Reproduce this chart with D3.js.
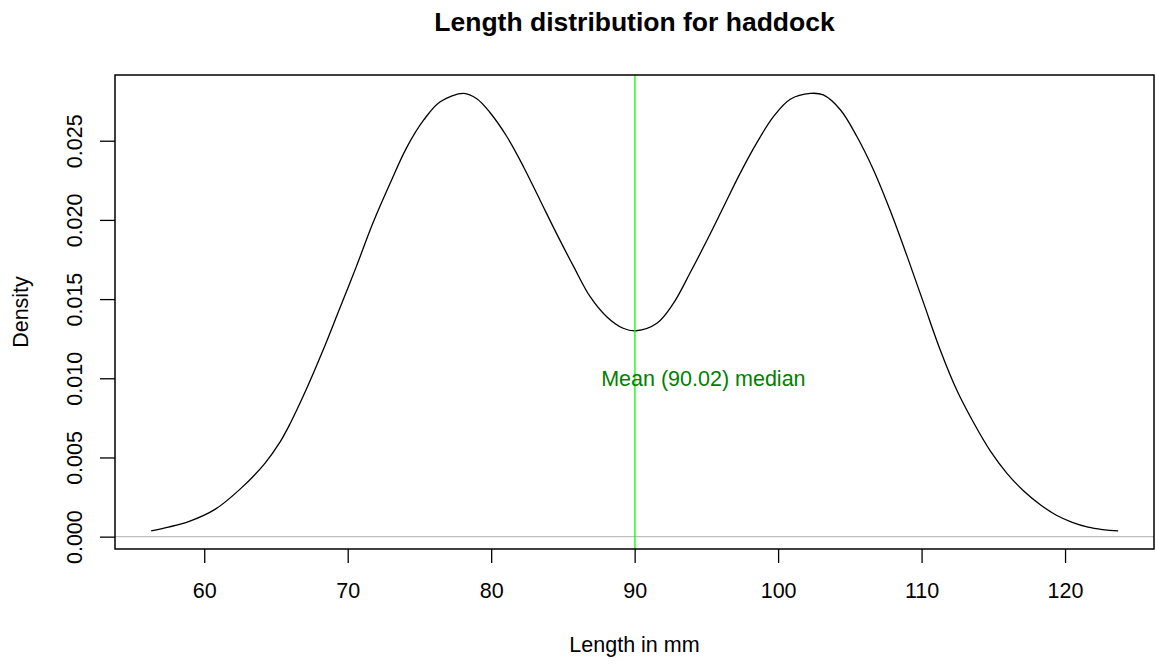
<!DOCTYPE html>
<html lang="en">
<head>
  <meta charset="UTF-8">
  <title>Length distribution for haddock</title>
  <script src="https://d3js.org/d3.v7.min.js"></script>
  <style>
    body { margin: 0; background: #fff; }
    text { font-family: "Liberation Sans", Arial, sans-serif; }
  </style>
</head>
<body>

<div id="chart"></div>

<script>
  // Density curve (length in mm, density)
  const lengths = [56.3, 57.5, 59.0, 60.75, 62.5, 64.2, 65.3, 66.0, 67.1, 68.25, 69.4, 70.6,
    71.75, 72.95, 74.1, 75.3, 76.45, 78.1, 79.0, 79.9, 81.1, 82.25, 83.4, 84.55, 85.75, 86.9,
    88.05, 89.2, 90.1, 91.55, 92.7, 93.85, 95.05, 96.2, 97.35, 98.5, 99.7, 100.85, 102.25,
    103.15, 104.35, 105.5, 106.65, 107.8, 109.0, 110.15, 111.3, 112.45, 113.65, 114.8,
    115.95, 117.1, 118.3, 119.4, 120.5, 121.6, 122.6, 123.7];
  const densities = [0.00036, 0.0006, 0.00098, 0.00172, 0.0030, 0.0046, 0.0060, 0.00716,
    0.00927, 0.0117, 0.01431, 0.01705, 0.01979, 0.0223, 0.02455, 0.02631, 0.02746, 0.02799,
    0.02765, 0.0268, 0.02525, 0.02336, 0.02126, 0.01915, 0.01705, 0.01515, 0.01389, 0.01316,
    0.0130, 0.01347, 0.01473, 0.01663, 0.01873, 0.02083, 0.02294, 0.02485, 0.02655, 0.02762,
    0.02799, 0.02789, 0.02694, 0.02525, 0.02315, 0.02062, 0.01768, 0.01473, 0.01179, 0.00926,
    0.00716, 0.0054, 0.0040, 0.0029, 0.0020, 0.00135, 0.0009, 0.0006, 0.00045, 0.00036];

  const xTicks = [60, 70, 80, 90, 100, 110, 120];
  const yTicks = [0, 0.005, 0.010, 0.015, 0.020, 0.025];
  const meanLength = 90.02;
  const labelPos = [95, 0.010];

  const width = 1156, height = 664;
  const mLeft = 115, mRight = 1154, mTop = 75, mBottom = 549;

  const svg = d3.select("#chart").append("svg")
    .attr("width", width)
    .attr("height", height);

  const x = d3.scaleLinear().domain([53.78, 126.2]).range([mLeft, mRight]);
  const y = d3.scaleLinear().domain([-0.00078, 0.02915]).range([mBottom, mTop]);

  // zero line
  svg.append("line")
    .attr("x1", mLeft).attr("x2", mRight)
    .attr("y1", y(0)).attr("y2", y(0))
    .attr("stroke", "#bebebe").attr("stroke-width", 1.3);

  // curve
  const pts = lengths.map((l, i) => [l, densities[i]]);
  svg.append("path")
    .datum(pts)
    .attr("fill", "none")
    .attr("stroke", "#000")
    .attr("stroke-width", 1.3)
    .attr("d", d3.line().x(d => x(d[0])).y(d => y(d[1])).curve(d3.curveCatmullRom.alpha(0.5)));

  // mean line
  svg.append("line")
    .attr("x1", x(meanLength)).attr("x2", x(meanLength))
    .attr("y1", mTop).attr("y2", mBottom)
    .attr("stroke", "#00ff00").attr("stroke-width", 1.3);

  svg.append("text")
    .attr("x", x(labelPos[0]) - 3)
    .attr("y", y(labelPos[1]))
    .attr("dy", "0.35em")
    .attr("text-anchor", "middle")
    .attr("font-size", "21.5px")
    .attr("fill", "#008000")
    .text("Mean (90.02) median");

  // axes
  const xAxis = svg.append("g")
    .attr("transform", `translate(0,${mBottom})`)
    .call(d3.axisBottom(x).tickValues(xTicks).tickSize(14).tickPadding(20).tickFormat(d3.format("d")));
  const yAxis = svg.append("g")
    .attr("transform", `translate(${mLeft},0)`)
    .call(d3.axisLeft(y).tickValues(yTicks).tickSize(15).tickFormat(d3.format(".3f")));

  [xAxis, yAxis].forEach(g => {
    g.select(".domain").remove();
    g.selectAll(".tick line").attr("stroke", "#000").attr("stroke-width", 1.3);
    g.selectAll("text").attr("font-size", "21.5px").attr("fill", "#000")
      .attr("font-family", "'Liberation Sans', Arial, sans-serif");
  });

  yAxis.selectAll(".tick text")
    .attr("transform", "rotate(-90)")
    .attr("x", 0)
    .attr("y", -33)
    .attr("dy", 0)
    .attr("text-anchor", "middle");

  // box
  svg.append("rect")
    .attr("x", mLeft).attr("y", mTop)
    .attr("width", mRight - mLeft).attr("height", mBottom - mTop)
    .attr("fill", "none").attr("stroke", "#000").attr("stroke-width", 1.5);

  // titles
  svg.append("text")
    .attr("x", (mLeft + mRight) / 2)
    .attr("y", 31)
    .attr("text-anchor", "middle")
    .attr("font-size", "26.5px")
    .attr("font-weight", "bold")
    .text("Length distribution for haddock");

  svg.append("text")
    .attr("x", (mLeft + mRight) / 2)
    .attr("y", 652)
    .attr("text-anchor", "middle")
    .attr("font-size", "21.5px")
    .text("Length in mm");

  svg.append("text")
    .attr("transform", `translate(28,${(mTop + mBottom) / 2}) rotate(-90)`)
    .attr("text-anchor", "middle")
    .attr("font-size", "21.5px")
    .text("Density");
</script>

</body>
</html>
